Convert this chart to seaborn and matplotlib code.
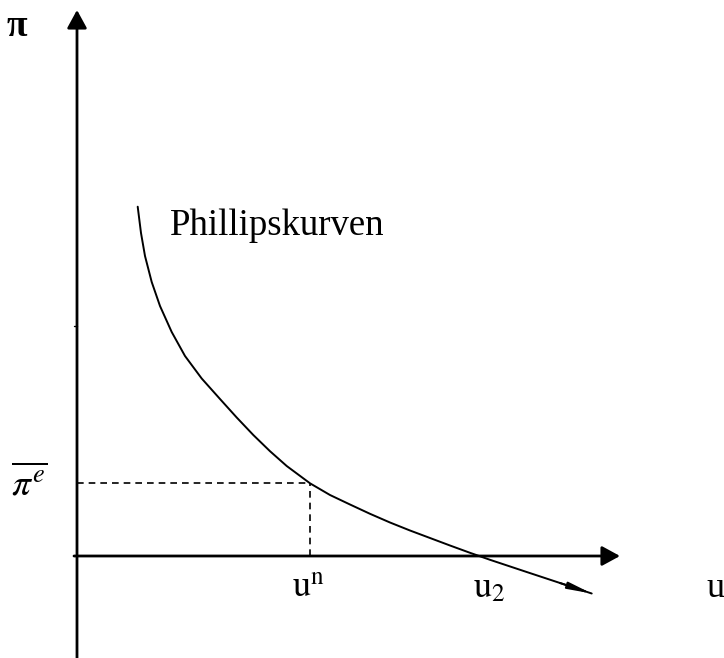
import matplotlib
matplotlib.use("Agg")
import matplotlib.pyplot as plt
import seaborn as sns
import pandas as pd

# Phillips curve (unemployment u, inflation pi)
curve_u = [0.607, 0.640, 0.680, 0.747, 0.830, 0.947, 1.080, 1.247, 1.430,
           1.597, 1.763, 1.930, 2.097, 2.330, 2.530, 2.730, 2.930, 3.130,
           3.330, 3.530, 3.730, 3.930, 4.130, 4.497, 4.830, 5.147]
curve_pi = [3.493, 3.230, 3.000, 2.740, 2.500, 2.240, 2.000, 1.775, 1.570,
            1.385, 1.210, 1.048, 0.900, 0.727, 0.610, 0.515, 0.422, 0.335,
            0.255, 0.180, 0.105, 0.032, -0.038, -0.160, -0.270, -0.375]
u_n = 2.33      # natural rate of unemployment
pi_e = 0.73     # expected inflation
u_axis_end = 5.43
pi_axis_end = 5.46

sns.set_theme(style="white")
plt.rcParams["font.family"] = ["Liberation Serif", "DejaVu Serif"]
plt.rcParams["mathtext.fontset"] = "stix"
plt.rcParams["text.color"] = "black"

fig = plt.figure(figsize=(7.24, 6.58), dpi=100)
ax = fig.add_axes([0, 0, 1, 1])
ax.set_xlim(-0.77, 6.47)
ax.set_ylim(-1.02, 5.56)
ax.axis("off")

df = pd.DataFrame({"u": curve_u, "pi": curve_pi})
sns.lineplot(data=df, x="u", y="pi", sort=False, color="black", lw=1.4, ax=ax)
# arrow tip at the end of the curve
ax.annotate("", xy=(curve_u[-1], curve_pi[-1]), xytext=(curve_u[-2], curve_pi[-2]),
            arrowprops=dict(arrowstyle="-|>,head_length=0.7,head_width=0.1",
                            color="black", lw=1.4, mutation_scale=20,
                            shrinkA=0, shrinkB=0))

# axes with arrows
ax.annotate("", xy=(0, pi_axis_end), xytext=(0, -1.05),
            arrowprops=dict(arrowstyle="-|>,head_length=0.55,head_width=0.3",
                            color="black", lw=2.0, mutation_scale=20,
                            shrinkA=0, shrinkB=0))
ax.annotate("", xy=(u_axis_end, 0), xytext=(-0.03, 0),
            arrowprops=dict(arrowstyle="-|>,head_length=0.55,head_width=0.3",
                            color="black", lw=2.0, mutation_scale=20,
                            shrinkA=0, shrinkB=0))
ax.plot([-0.03, 0], [2.30, 2.30], color="black", lw=1.0)

# dashed guide lines
ax.plot([0, u_n], [pi_e, pi_e], color="black", lw=1.2, ls=(0, (4, 3)))
ax.plot([u_n, u_n], [0, pi_e], color="black", lw=1.2, ls=(0, (4, 3)))

# labels
ax.text(-0.60, 5.29, "π", fontsize=27, fontweight="bold", color="black",
        ha="center", va="center")
ax.text(0.93, 3.21, "Phillipskurven", fontsize=26.5, color="black",
        ha="left", va="baseline")
ax.text(-0.48, 0.72, r"$\overline{\pi^{e}}$", fontsize=27, color="black",
        ha="center", va="center")
ax.text(2.15, -0.41, r"$\mathrm{u}^{\mathrm{n}}$", fontsize=26, color="black",
        ha="left", va="baseline")
ax.text(3.96, -0.41, r"$\mathrm{u}_{2}$", fontsize=26, color="black",
        ha="left", va="baseline")
ax.text(6.29, -0.41, "u", fontsize=26, color="black", ha="left", va="baseline")

fig.savefig("out.png", dpi=100)
